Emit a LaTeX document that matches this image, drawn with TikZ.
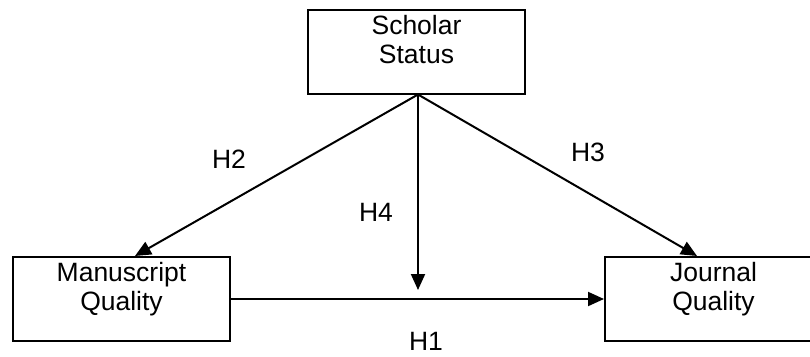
\documentclass[tikz,border=0pt]{standalone}
\usepackage{fontspec}
\setmainfont{Liberation Sans}
\usetikzlibrary{arrows.meta}

\begin{document}
\begin{tikzpicture}[x=1pt,y=-1pt,line width=2pt,
  var node/.style={rectangle,draw,minimum width=217pt,minimum height=84pt},
  name node/.style={align=center,anchor=north,inner sep=0pt,font=\fontsize{26.5}{29}\selectfont},
  hyp node/.style={font=\fontsize{26.5}{29}\selectfont},
  >={Triangle[length=16pt,width=14pt]}]

\useasboundingbox (0,0) rectangle (810,356);

  \node[var node] (scholar) at (416.5,51.5) {};
  \node[var node] (manuscript) at (121.5,299) {};
  \node[var node] (journal) at (713.5,299) {};

  \node[name node] (scholartext) at ([yshift=-6pt]scholar.north) {Scholar\\Status};
  \node[name node] (manuscripttext) at ([yshift=-5pt]manuscript.north) {Manuscript\\Quality};
  \node[name node] (journaltext) at ([yshift=-5pt]journal.north) {Journal\\Quality};

  \coordinate (src) at ([xshift=1.5pt]scholar.south);
  \coordinate (mtop) at ([xshift=13.5pt]manuscript.north);
  \coordinate (jtop) at ([xshift=-16.5pt]journal.north);
  \coordinate (mod) at (418,290);

  \draw[->] (src) -- (mtop);
  \draw[->] (src) -- (jtop);
  \draw[->] (src) -- (mod);
  \draw[->] (manuscript) -- (journal);

  \node[hyp node] (h2) at (229,159) {H2};
  \node[hyp node] (h3) at (588,152) {H3};
  \node[hyp node] (h4) at (376,212) {H4};
  \node[hyp node] (h1) at (426,341) {H1};
\end{tikzpicture}
\end{document}
